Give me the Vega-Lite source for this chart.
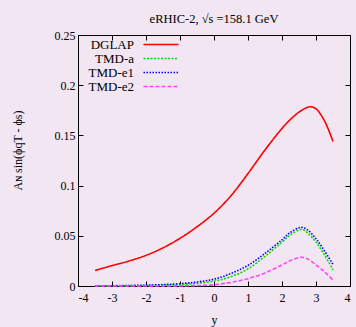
{
 "$schema": "https://vega.github.io/schema/vega-lite/v6.json",
 "width": 272,
 "height": 251,
 "autosize": {"type": "none"},
 "padding": {"left": 78, "top": 35, "right": 6, "bottom": 41},
 "background": "#f1e6f1",
 "title": {"text": "eRHIC-2, √s =158.1 GeV", "fontSize": 12.5, "font": "Liberation Serif", "fontWeight": "normal", "offset": 4, "color": "#000000"},
 "config": {
  "view": {"stroke": "#000000", "strokeWidth": 1},
  "font": "Liberation Serif",
  "axis": {"domainColor": "#000000", "tickColor": "#000000", "labelColor": "#000000", "titleColor": "#000000", "labelFont": "Liberation Serif", "titleFont": "Liberation Serif", "labelFontSize": 12, "titleFontSize": 12, "titleFontWeight": "normal", "grid": false, "tickSize": -5, "labelPadding": 8, "labelExpr": "replace(datum.label, '−', '-')"}
 },
 "resolve": {"axis": {"x": "independent", "y": "independent"}},
 "data": {"values": [
  {"y": -3.5, "series": "DGLAP", "A": 0.0155},
  {"y": -3, "series": "DGLAP", "A": 0.0203},
  {"y": -2.5, "series": "DGLAP", "A": 0.0249},
  {"y": -2, "series": "DGLAP", "A": 0.0305},
  {"y": -1.5, "series": "DGLAP", "A": 0.038},
  {"y": -1, "series": "DGLAP", "A": 0.0475},
  {"y": -0.5, "series": "DGLAP", "A": 0.059},
  {"y": 0, "series": "DGLAP", "A": 0.0725},
  {"y": 0.5, "series": "DGLAP", "A": 0.090},
  {"y": 1, "series": "DGLAP", "A": 0.112},
  {"y": 1.5, "series": "DGLAP", "A": 0.1355},
  {"y": 2, "series": "DGLAP", "A": 0.157},
  {"y": 2.25, "series": "DGLAP", "A": 0.166},
  {"y": 2.5, "series": "DGLAP", "A": 0.1732},
  {"y": 2.75, "series": "DGLAP", "A": 0.178},
  {"y": 2.85, "series": "DGLAP", "A": 0.1785},
  {"y": 3, "series": "DGLAP", "A": 0.1765},
  {"y": 3.25, "series": "DGLAP", "A": 0.1645},
  {"y": 3.5, "series": "DGLAP", "A": 0.144},
  {"y": -3.5, "series": "TMD-a", "A": 0.0001},
  {"y": -3, "series": "TMD-a", "A": 0.0002},
  {"y": -2.5, "series": "TMD-a", "A": 0.0003},
  {"y": -2, "series": "TMD-a", "A": 0.0005},
  {"y": -1.5, "series": "TMD-a", "A": 0.0009},
  {"y": -1, "series": "TMD-a", "A": 0.0015},
  {"y": -0.5, "series": "TMD-a", "A": 0.0027},
  {"y": 0, "series": "TMD-a", "A": 0.0048},
  {"y": 0.5, "series": "TMD-a", "A": 0.0093},
  {"y": 1, "series": "TMD-a", "A": 0.0170},
  {"y": 1.5, "series": "TMD-a", "A": 0.0295},
  {"y": 2, "series": "TMD-a", "A": 0.0437},
  {"y": 2.25, "series": "TMD-a", "A": 0.0510},
  {"y": 2.5, "series": "TMD-a", "A": 0.0558},
  {"y": 2.6, "series": "TMD-a", "A": 0.0562},
  {"y": 2.75, "series": "TMD-a", "A": 0.0530},
  {"y": 3, "series": "TMD-a", "A": 0.0437},
  {"y": 3.25, "series": "TMD-a", "A": 0.0310},
  {"y": 3.5, "series": "TMD-a", "A": 0.0160},
  {"y": -3.5, "series": "TMD-e1", "A": 0.0002},
  {"y": -3, "series": "TMD-e1", "A": 0.0003},
  {"y": -2.5, "series": "TMD-e1", "A": 0.0005},
  {"y": -2, "series": "TMD-e1", "A": 0.0008},
  {"y": -1.5, "series": "TMD-e1", "A": 0.0014},
  {"y": -1, "series": "TMD-e1", "A": 0.0023},
  {"y": -0.5, "series": "TMD-e1", "A": 0.0040},
  {"y": 0, "series": "TMD-e1", "A": 0.0068},
  {"y": 0.5, "series": "TMD-e1", "A": 0.0125},
  {"y": 1, "series": "TMD-e1", "A": 0.0205},
  {"y": 1.5, "series": "TMD-e1", "A": 0.0325},
  {"y": 2, "series": "TMD-e1", "A": 0.0460},
  {"y": 2.25, "series": "TMD-e1", "A": 0.0535},
  {"y": 2.5, "series": "TMD-e1", "A": 0.0580},
  {"y": 2.6, "series": "TMD-e1", "A": 0.0583},
  {"y": 2.75, "series": "TMD-e1", "A": 0.0560},
  {"y": 3, "series": "TMD-e1", "A": 0.0470},
  {"y": 3.25, "series": "TMD-e1", "A": 0.0350},
  {"y": 3.5, "series": "TMD-e1", "A": 0.0215},
  {"y": -3.5, "series": "TMD-e2", "A": 0.0},
  {"y": -3, "series": "TMD-e2", "A": 0.0},
  {"y": -2.5, "series": "TMD-e2", "A": 0.0},
  {"y": -2, "series": "TMD-e2", "A": 0.0},
  {"y": -1.5, "series": "TMD-e2", "A": 0.00005},
  {"y": -1, "series": "TMD-e2", "A": 0.0001},
  {"y": -0.5, "series": "TMD-e2", "A": 0.0004},
  {"y": 0, "series": "TMD-e2", "A": 0.0012},
  {"y": 0.5, "series": "TMD-e2", "A": 0.0036},
  {"y": 1, "series": "TMD-e2", "A": 0.0073},
  {"y": 1.5, "series": "TMD-e2", "A": 0.0130},
  {"y": 2, "series": "TMD-e2", "A": 0.0210},
  {"y": 2.25, "series": "TMD-e2", "A": 0.0255},
  {"y": 2.5, "series": "TMD-e2", "A": 0.0283},
  {"y": 2.6, "series": "TMD-e2", "A": 0.0285},
  {"y": 2.75, "series": "TMD-e2", "A": 0.0270},
  {"y": 3, "series": "TMD-e2", "A": 0.0210},
  {"y": 3.25, "series": "TMD-e2", "A": 0.0140},
  {"y": 3.5, "series": "TMD-e2", "A": 0.0060}
 ]},
 "layer": [
  {
   "mark": {"type": "line", "interpolate": "catmull-rom", "strokeWidth": 1.6},
   "encoding": {
    "x": {"field": "y", "type": "quantitative", "scale": {"domain": [-4, 4], "nice": false}, "axis": {"values": [-4, -3, -2, -1, 0, 1, 2, 3, 4], "title": "y", "titlePadding": 11, "labelPadding": 11}},
    "y": {"field": "A", "type": "quantitative", "scale": {"domain": [0, 0.25], "nice": false}, "axis": {"values": [0, 0.05, 0.1, 0.15, 0.2, 0.25], "format": ".2~f", "title": "Aɴ sin(ϕqT - ϕs)", "titlePadding": 30, "titleY": 115}},
    "color": {"field": "series", "type": "nominal", "scale": {"domain": ["DGLAP", "TMD-a", "TMD-e1", "TMD-e2"], "range": ["#ff0000", "#00dd00", "#0000ff", "#ff44ff"]},
     "legend": {"title": null, "orient": "none", "legendX": 76.5, "legendY": 3, "padding": 0, "symbolType": "M-3.5,0H3.5", "symbolSize": 100, "symbolStrokeWidth": 1.6, "symbolFillColor": "transparent", "labelAlign": "right", "labelOffset": -33.5, "labelFontSize": 13, "labelFont": "Liberation Serif", "labelColor": "#000000", "rowPadding": -1.5, "labelLimit": 200}},
    "strokeDash": {"field": "series", "type": "nominal", "scale": {"domain": ["DGLAP", "TMD-a", "TMD-e1", "TMD-e2"], "range": [[1, 0], [2, 1.5], [1.5, 1.5], [4, 2]]}, "legend": {"title": null}}
   }
  },
  {
   "mark": {"type": "line", "strokeOpacity": 0},
   "encoding": {
    "x": {"field": "y", "type": "quantitative", "axis": {"orient": "top", "values": [-4, -3, -2, -1, 0, 1, 2, 3, 4], "labels": false, "title": null}},
    "y": {"field": "A", "type": "quantitative", "axis": {"orient": "right", "values": [0, 0.05, 0.1, 0.15, 0.2, 0.25], "labels": false, "title": null}},
    "detail": {"field": "series"}
   }
  }
 ]
}
